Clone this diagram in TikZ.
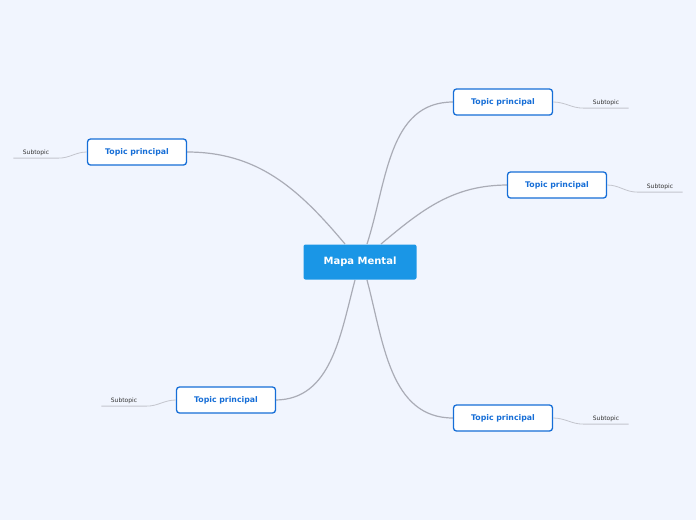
\documentclass[tikz,border=0pt]{standalone}
\usepackage{fontspec}
\setmainfont{DejaVu Sans}
\usetikzlibrary{positioning}
\definecolor{fondo}{RGB}{241,245,254}
\definecolor{azul}{RGB}{26,150,230}
\definecolor{azulT}{RGB}{22,110,215}
\definecolor{gris}{RGB}{170,172,182}
\definecolor{grisC}{RGB}{195,197,205}
\tikzset{
    central/.style={rectangle, rounded corners=2pt, fill=azul, text=white, font=\bfseries\fontsize{10}{12}\selectfont, minimum width=113pt, minimum height=35pt, inner sep=0pt},
    topico/.style={rectangle, rounded corners=3pt, draw=azulT, line width=1.3pt, fill=white, text=azulT, font=\bfseries\fontsize{7.8}{9}\selectfont, minimum width=99pt, minimum height=26pt, inner sep=0pt},
    subt/.style={font=\fontsize{6}{7}\selectfont, text=black!80, minimum width=45pt, inner sep=2pt},
    rama/.style={gris, line width=1.2pt},
    ramita/.style={grisC, line width=0.8pt},
}
\begin{document}
\begin{tikzpicture}[x=1pt, y=-1pt]
    \fill[fondo] (0,0) rectangle (696,520);
    \useasboundingbox (0,0) rectangle (696,520);

    % ramas principales
    \coordinate (c1) at (345,244);
    \coordinate (c2) at (367,244);
    \coordinate (c3) at (381,244);
    \coordinate (c4) at (355,280);
    \coordinate (c5) at (367,280);
    \coordinate (e1) at (453,102);
    \coordinate (e2) at (508,185);
    \coordinate (e3) at (187,152);
    \coordinate (e4) at (275,400);
    \coordinate (e5) at (453,418);
    \draw[rama] (c1) to[out=130, in=0] (e3);
    \draw[rama] (c2) to[out=72, in=180] (e1);
    \draw[rama] (c3) to[out=40, in=180] (e2);
    \draw[rama] (c4) to[out=-105, in=0] (e4);
    \draw[rama] (c5) to[out=-75, in=180] (e5);

    \node [central] (c) at (360,262) {Mapa Mental};

    \node [topico] (t1) at (503,102) {Topic principal};
    \node [topico] (t2) at (557,185) {Topic principal};
    \node [topico] (t3) at (137,152) {Topic principal};
    \node [topico] (t4) at (226,400) {Topic principal};
    \node [topico] (t5) at (503,418) {Topic principal};

    \node [subt] (s1) at (606,103) {Subtopic};
    \node [subt] (s2) at (660,187) {Subtopic};
    \node [subt] (s3) at (36,153) {Subtopic};
    \node [subt] (s4) at (124,401) {Subtopic};
    \node [subt] (s5) at (606,419) {Subtopic};

    % subtopicos
    \draw[ramita] (t1.east) to[out=0, in=180] (s1.south west) -- (s1.south east);
    \draw[ramita] (t2.east) to[out=0, in=180] (s2.south west) -- (s2.south east);
    \draw[ramita] (t3.west) to[out=180, in=0] (s3.south east) -- (s3.south west);
    \draw[ramita] (t4.west) to[out=180, in=0] (s4.south east) -- (s4.south west);
    \draw[ramita] (t5.east) to[out=0, in=180] (s5.south west) -- (s5.south east);
\end{tikzpicture}
\end{document}
